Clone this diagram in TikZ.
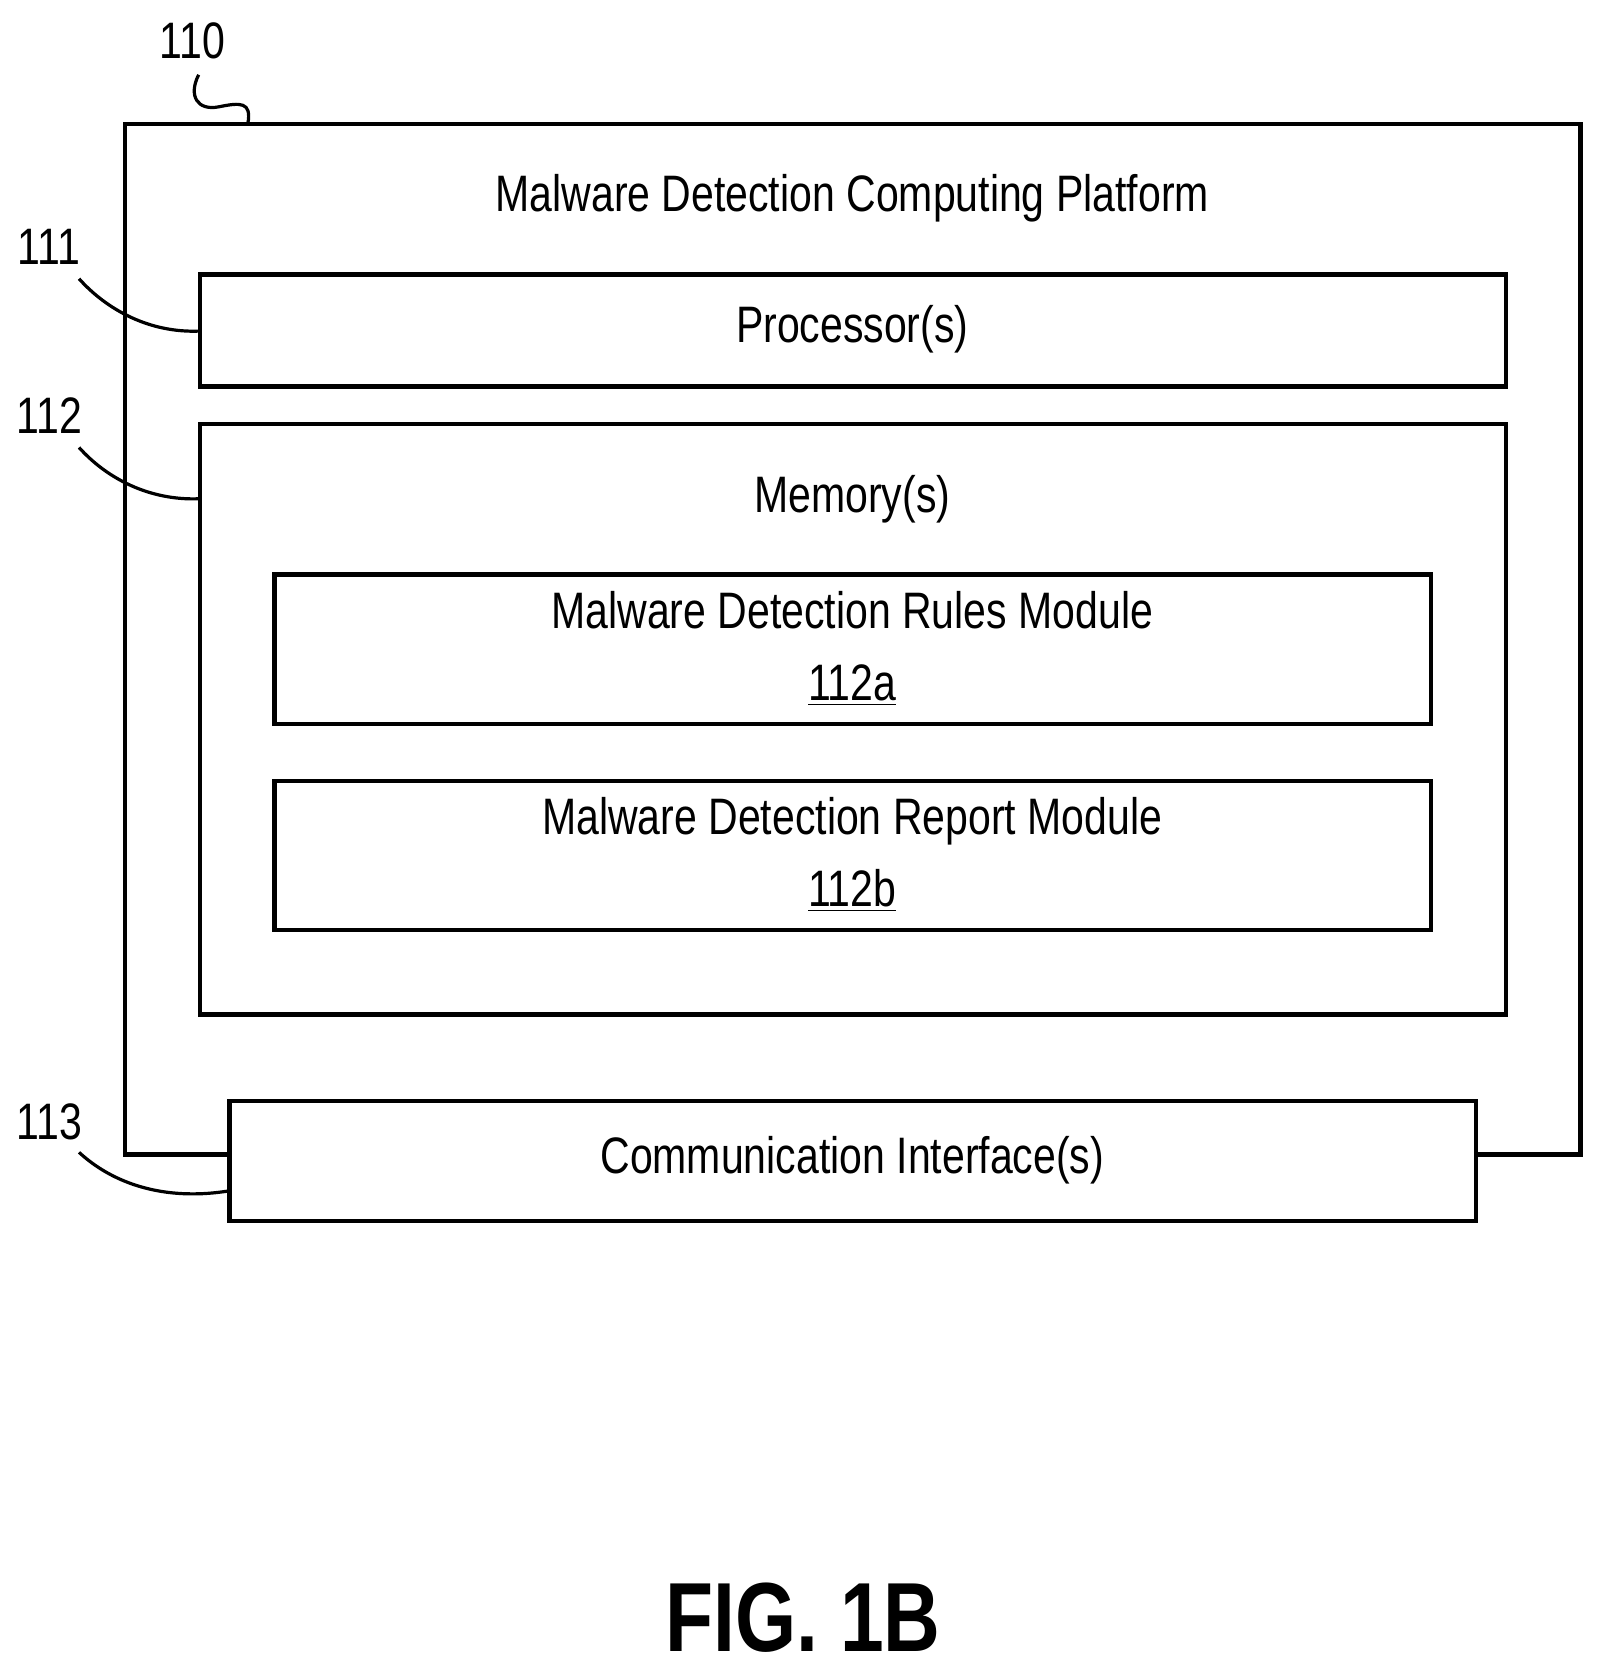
\documentclass[tikz,border=0pt]{standalone}
\usepackage{fontspec}
\setmainfont{Liberation Sans}[FakeStretch=0.8]
\begin{document}
\begin{tikzpicture}[x=0.5pt,y=-0.5pt,
  box/.style={draw,line width=2pt,fill=white},
  lead/.style={line width=1.5pt},
  txt/.style={font=\fontsize{24}{30}\selectfont,inner sep=0},
  num/.style={font=\fontsize{24}{30}\selectfont,inner sep=0}]
\useasboundingbox (0,0) rectangle (1500,1568.4);
\draw[box] (117,116) rectangle (1480,1081);
\node[txt] (t0) at (798,186) {Malware Detection Computing Platform};
\draw[box] (187,257) rectangle (1410,362);
\node[txt] (p) at (798,308) {Processor(s)};
\draw[box] (187,397) rectangle (1410,950);
\node[txt] (m) at (798,467) {Memory(s)};
\draw[box] (257,538) rectangle (1340,678);
\node[txt,align=center] (a) at (798,607) {Malware Detection Rules Module\\[4pt]\underline{112a}};
\draw[box] (257,731) rectangle (1340,871);
\node[txt,align=center] (b) at (798,800) {Malware Detection Report Module\\[4pt]\underline{112b}};
\draw[box] (215,1031) rectangle (1382,1143);
\node[txt] (c) at (798,1086) {Communication Interface(s)};
\node[num] (n110) at (180,38) {110};
\node[num] (n111) at (46,231) {111};
\node[num] (n112) at (46,389) {112};
\node[num] (n113) at (46,1050) {113};
\coordinate (e0) at (232,116);
\coordinate (e1) at (187,310);
\coordinate (e2) at (187,467);
\coordinate (e3) at (215,1115);
\draw[lead] (186,70) .. controls (176,90) and (185,104) .. (205,100) .. controls (225,96) and (236,95) .. (e0);
\draw[lead] (74,261) .. controls (100,290) and (140,312) .. (e1);
\draw[lead] (74,419) .. controls (100,448) and (140,469) .. (e2);
\draw[lead] (74,1079) .. controls (110,1112) and (160,1124) .. (e3);
\node[font=\bfseries\fontsize{46}{50}\selectfont,inner sep=0] (fig) at (752,1515) {FIG. 1B};
\end{tikzpicture}
\end{document}
